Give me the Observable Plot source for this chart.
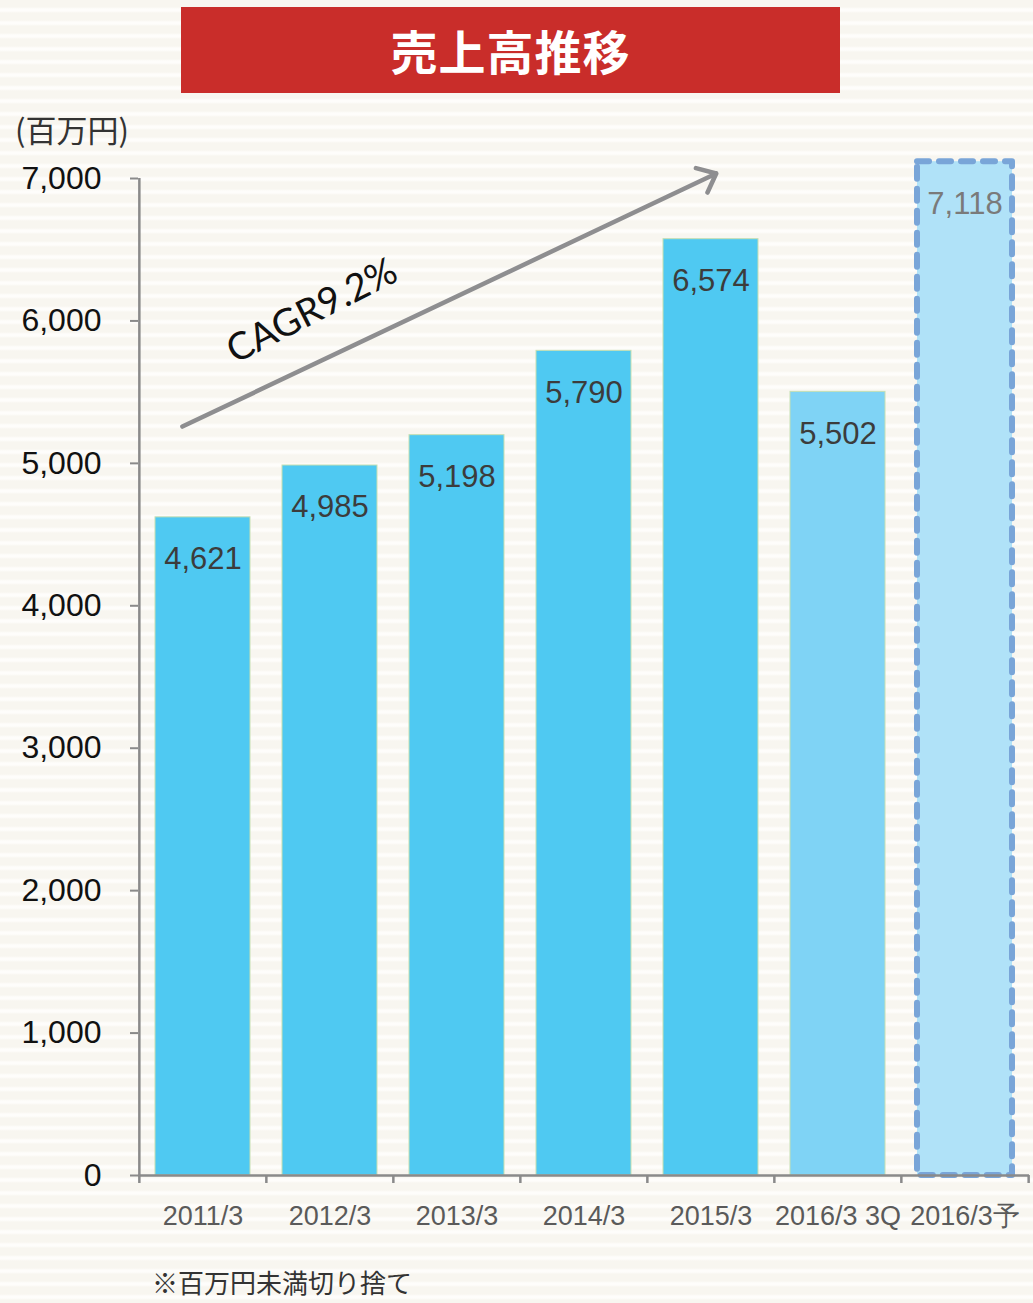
<!DOCTYPE html>
<html>
<head>
<meta charset="utf-8">
<script src="https://cdn.jsdelivr.net/npm/d3@7"></script>
<script src="https://cdn.jsdelivr.net/npm/@observablehq/plot@0.6"></script>
<style>
  html, body { margin: 0; padding: 0; }
  body {
    width: 1033px; height: 1303px; position: relative; overflow: hidden;
    background: repeating-linear-gradient(to bottom, #f8f6f0 0px, #f8f6f0 7px, #fefdfb 9px, #fefdfb 11px, #f8f6f0 13px);
    font-family: "Liberation Sans", Arial, sans-serif;
  }
  #title {
    position: absolute; left: 181px; top: 7px; width: 659px; height: 86px;
    background: #c92d2a; color: #fff; text-align: center;
    font-family: "Noto Sans CJK JP", sans-serif; font-weight: 700; font-size: 47px;
    line-height: 86px; letter-spacing: 1px;
  }
  #unit {
    position: absolute; left: 15px; top: 108px; font-family: "Noto Sans CJK JP", sans-serif;
    font-size: 31px; color: #333; line-height: 42px;
  }
  #chart { position: absolute; left: 0; top: 100px; }
  #note {
    position: absolute; left: 152px; top: 1264px; font-family: "Noto Sans CJK JP", sans-serif;
    font-size: 26px; color: #333; line-height: 36px;
  }
</style>
</head>
<body>
<div id="title">売上高推移</div>
<div id="unit">(百万円)</div>
<div id="chart"></div>
<div id="note">※百万円未満切り捨て</div>
<script>
const categories = ["2011/3", "2012/3", "2013/3", "2014/3", "2015/3", "2016/3 3Q", "2016/3予"];
const values = [4621, 4985, 5198, 5790, 6574, 5502, 7118];
const barKinds = ["actual", "actual", "actual", "actual", "actual", "quarter", "forecast"];
const yTicks = [0, 1000, 2000, 3000, 4000, 5000, 6000, 7000];
const cagrLabel = "CAGR9.2%";
const cagrArrow = [{from: "2011/3", to: "2015/3", fromValue: 5327, toValue: 7018}];
const cagrText = [{x: "2012/3", y: 6070, label: cagrLabel}];

const data = categories.map((c, i) => ({category: c, value: values[i], kind: barKinds[i]}));
const kindFill = {actual: "#4fc9f2", quarter: "#7fd3f5", forecast: "#b0e2f8"};

const W = 1033, H = 1150, mL = 138, mR = 4, mT = 78, mB = 75;
const step = (W - mL - mR) / categories.length;
const tickLen = 8 * 7000 / (H - mT - mB); // 8px expressed in y units

const plot = Plot.plot({
  width: W, height: H,
  marginLeft: mL, marginRight: mR, marginTop: mT, marginBottom: mB,
  style: {background: "transparent", fontFamily: "Liberation Sans, Arial, sans-serif", overflow: "visible"},
  x: {domain: categories, paddingInner: 0.25, paddingOuter: 0.125, align: 0.5, label: null},
  y: {domain: [0, 7000], label: null},
  marks: [
    Plot.barY(data.filter(d => d.kind !== "forecast"), {
      x: "category", y: "value", fill: d => kindFill[d.kind], stroke: "#c6dfb2", strokeWidth: 1
    }),
    Plot.barY(data.filter(d => d.kind === "forecast"), {
      x: "category", y: "value", fill: kindFill.forecast, stroke: "#79a5d8", strokeWidth: 6,
      strokeDasharray: "12,10", strokeLinecap: "round", strokeLinejoin: "round"
    }),
    Plot.text(data, {
      x: "category", y: "value", text: d => d3.format(",")(d.value), dy: 42,
      fontSize: 31, fill: d => d.kind === "forecast" ? "#7a7a7a" : "#3c3c3c", lineAnchor: "middle"
    }),
    Plot.axisY({
      ticks: yTicks, tickFormat: d3.format(","), tickSize: 8, tickPadding: 29,
      fontSize: 32, fill: "#111", stroke: "#8a8a8a", strokeWidth: 2, strokeOpacity: 1
    }),
    Plot.ruleX(categories.slice(0, 1), {x: d => d, dx: -step / 2, y1: 0, y2: 7000, stroke: "#8a8a8a", strokeWidth: 2.5}),
    Plot.ruleY([0], {stroke: "#8a8a8a", strokeWidth: 2.5}),
    Plot.ruleX(categories, {x: d => d, dx: -step / 2, y1: 0, y2: -tickLen, stroke: "#8a8a8a", strokeWidth: 2.5}),
    Plot.ruleX(categories.slice(-1), {x: d => d, dx: step / 2, y1: 0, y2: -tickLen, stroke: "#8a8a8a", strokeWidth: 2.5}),
    Plot.axisX({tickSize: 0, tickPadding: 30, fontSize: 27, fill: "#5a5a5a"}),
    Plot.arrow(cagrArrow, {
      x1: "from", x2: "to", y1: "fromValue", y2: "toValue",
      insetStart: -22.8, insetEnd: -5.8, stroke: "#8e8e90", strokeWidth: 4.5, headLength: 7, headAngle: 80
    }),
    Plot.text(cagrText, {
      x: "x", y: "y", text: "label", dx: -18, rotate: -27, fontSize: 38,
      fontFamily: "Lato, 'Open Sans', sans-serif", fill: "#111"
    })
  ]
});
document.getElementById("chart").appendChild(plot);
</script>
</body>
</html>
